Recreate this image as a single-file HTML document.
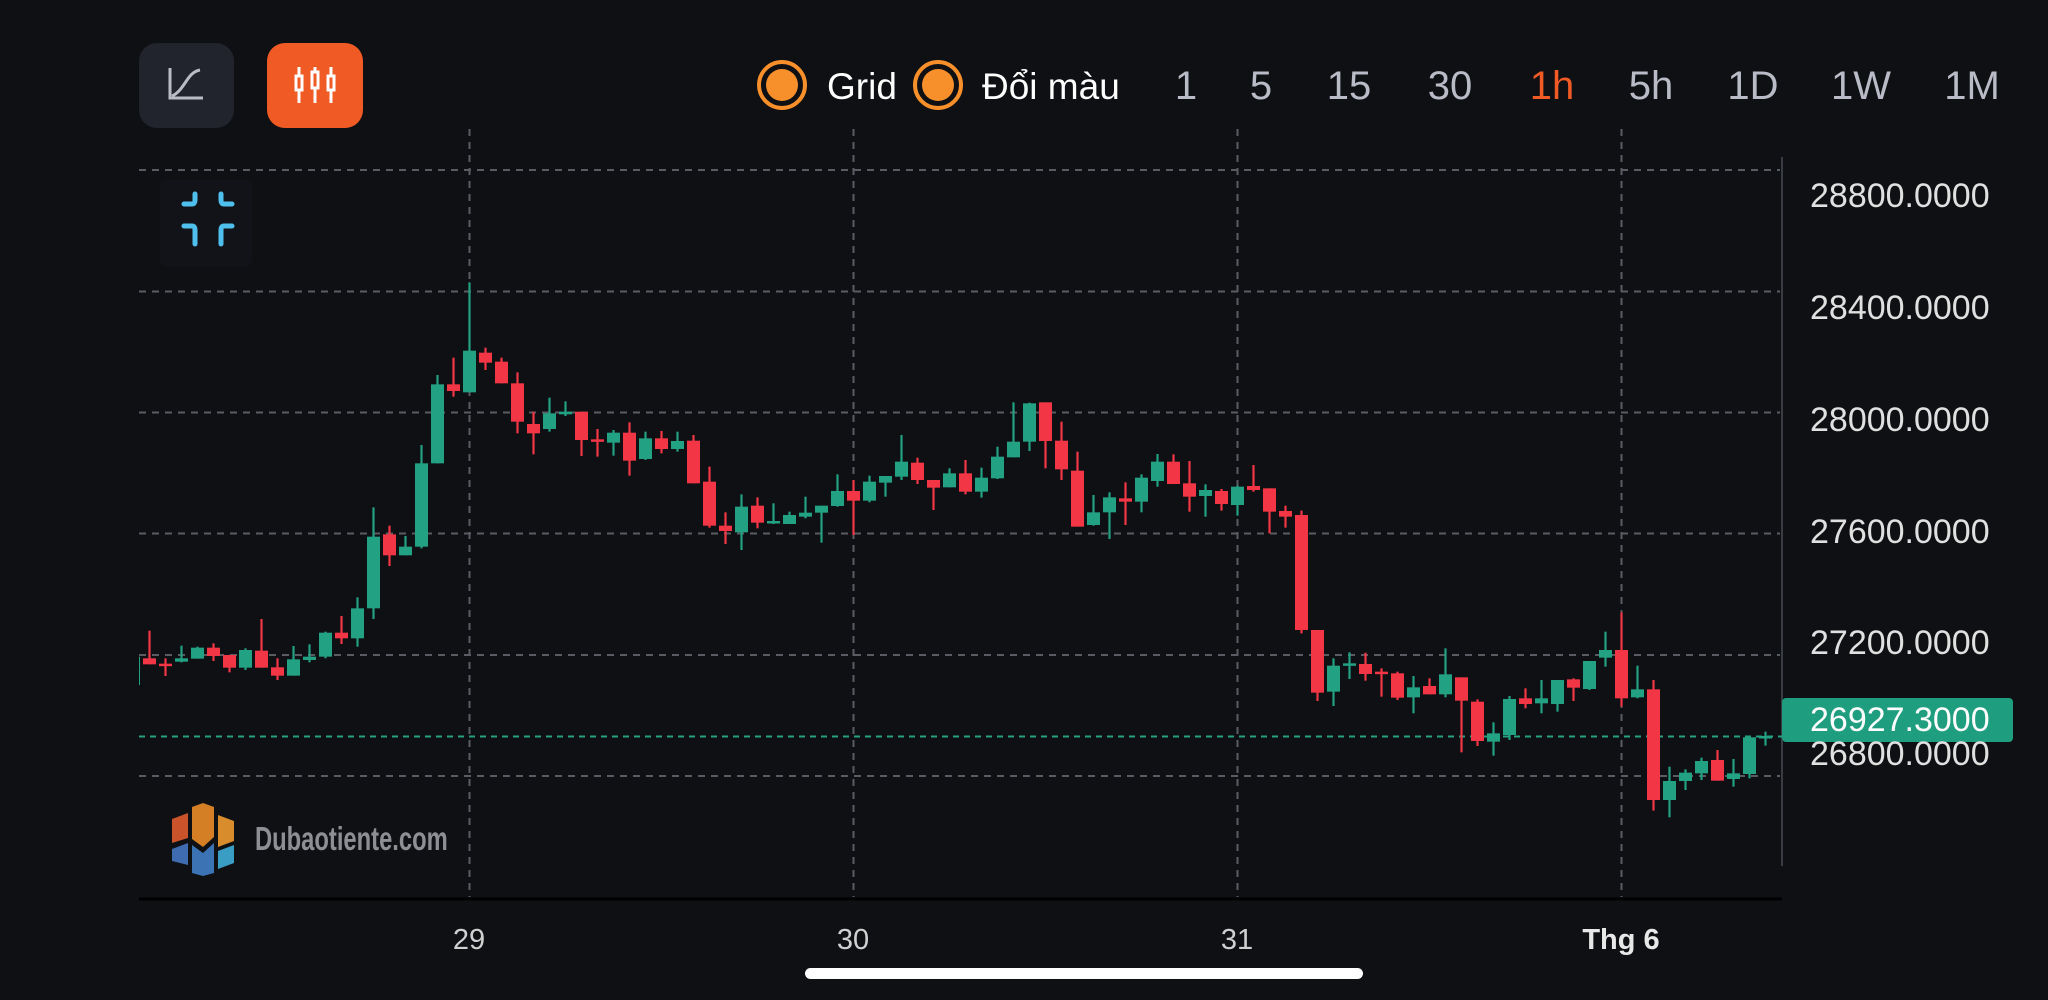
<!DOCTYPE html>
<html><head><meta charset="utf-8">
<style>
html,body{margin:0;padding:0;background:#0f1014;}
body{width:2048px;height:1000px;overflow:hidden;position:relative;font-family:"Liberation Sans",sans-serif;}
.t{position:absolute;white-space:nowrap;}
</style></head>
<body>
<svg id="s" width="2048" height="1000" style="position:absolute;left:0;top:0">
<rect x="139" y="43" width="95" height="85" rx="18" fill="#22242d"/>
<path d="M170 68 V98 H203" stroke="#b9bcc6" stroke-width="3" fill="none"/>
<path d="M172 96 C185 90 187 72 200 70" stroke="#b9bcc6" stroke-width="3" fill="none"/>
<rect x="267" y="43" width="96" height="85" rx="18" fill="#f05a24"/>
<g stroke="#fff" stroke-width="3" fill="none">
<line x1="299" y1="67" x2="299" y2="103"/><rect x="296" y="76" width="6" height="14" fill="#f05a24"/>
<line x1="315" y1="67" x2="315" y2="103"/><rect x="312" y="72" width="6" height="16" fill="#f05a24"/>
<line x1="331" y1="67" x2="331" y2="103"/><rect x="328" y="76" width="6" height="14" fill="#f05a24"/>
</g>
<circle cx="782" cy="85" r="23" fill="none" stroke="#f7902a" stroke-width="4"/>
<circle cx="782" cy="85" r="16" fill="#f7902a"/>
<circle cx="938" cy="85" r="23" fill="none" stroke="#f7902a" stroke-width="4"/>
<circle cx="938" cy="85" r="16" fill="#f7902a"/>
<rect x="160" y="180" width="92" height="86" rx="6" fill="#121318"/>
<g stroke="#4fc0ee" stroke-width="5" fill="none" stroke-linecap="round">
<path d="M184 204 H192 Q195 204 195 200 V194"/>
<path d="M232 204 H224 Q221 204 221 200 V194"/>
<path d="M184 226 H192 Q195 226 195 230 V244"/>
<path d="M232 226 H224 Q221 226 221 230 V244"/>
</g>
<g id="grid" stroke="#5a5c63" stroke-width="2" stroke-dasharray="7 6"></g>
<line x1="1782" y1="157" x2="1782" y2="866" stroke="#3a3c44" stroke-width="2"/>
<line x1="139" y1="899" x2="1782" y2="899" stroke="#000" stroke-width="3"/>
<line x1="139" y1="736.5" x2="1782" y2="736.5" stroke="#26a17f" stroke-width="2" stroke-dasharray="6 5"/>
<g id="c"></g>
<rect x="1782" y="698" width="231" height="44" rx="4" fill="#1f9e7f"/>
<g transform="translate(170,803)">
<path d="M2 16 L18 10 V35 L2 40Z" fill="#c9532a"/>
<path d="M22 4 L33 0 L44 4 V34 L33 44 L22 36Z" fill="#d47f26"/>
<path d="M48 12 L64 18 V38 L48 44Z" fill="#d98c2b"/>
<path d="M2 46 L18 40 V62 L2 58Z" fill="#3f6bb0"/>
<path d="M22 42 L33 50 L44 40 V70 L33 73 L22 70Z" fill="#3b73b4"/>
<path d="M48 48 L64 42 V60 L48 66Z" fill="#3a9ec4"/>
</g>
<rect x="805" y="968" width="558" height="11" rx="5.5" fill="#fff"/>
</svg>
<div class="t" style="left:827px;top:66px;font-size:37px;color:#fff;">Grid</div>
<div class="t" style="left:982px;top:66px;font-size:37px;color:#fff;font-family:'Liberation Sans','Noto Sans CJK JP',sans-serif;">Đổi màu</div>
<div class="t" style="left:1186px;top:64px;font-size:40px;color:#b9bcc6;transform:translateX(-50%)">1</div>
<div class="t" style="left:1261px;top:64px;font-size:40px;color:#b9bcc6;transform:translateX(-50%)">5</div>
<div class="t" style="left:1349px;top:64px;font-size:40px;color:#b9bcc6;transform:translateX(-50%)">15</div>
<div class="t" style="left:1450px;top:64px;font-size:40px;color:#b9bcc6;transform:translateX(-50%)">30</div>
<div class="t" style="left:1552px;top:64px;font-size:40px;color:#f05a24;transform:translateX(-50%)">1h</div>
<div class="t" style="left:1651px;top:64px;font-size:40px;color:#b9bcc6;transform:translateX(-50%)">5h</div>
<div class="t" style="left:1753px;top:64px;font-size:40px;color:#b9bcc6;transform:translateX(-50%)">1D</div>
<div class="t" style="left:1861px;top:64px;font-size:40px;color:#b9bcc6;transform:translateX(-50%)">1W</div>
<div class="t" style="left:1972px;top:64px;font-size:40px;color:#b9bcc6;transform:translateX(-50%)">1M</div>
<div class="t" style="left:1810px;top:177px;font-size:34px;color:#e0e0e0;">28800.0000</div>
<div class="t" style="left:1810px;top:289px;font-size:34px;color:#e0e0e0;">28400.0000</div>
<div class="t" style="left:1810px;top:401px;font-size:34px;color:#e0e0e0;">28000.0000</div>
<div class="t" style="left:1810px;top:513px;font-size:34px;color:#e0e0e0;">27600.0000</div>
<div class="t" style="left:1810px;top:624px;font-size:34px;color:#e0e0e0;">27200.0000</div>
<div class="t" style="left:1810px;top:735px;font-size:34px;color:#e0e0e0;">26800.0000</div>
<div class="t" style="left:1810px;top:701px;font-size:34px;color:#fff;">26927.3000</div>
<div class="t" style="left:469px;top:924px;font-size:29px;color:#d0d0d0;transform:translateX(-50%)">29</div>
<div class="t" style="left:853px;top:924px;font-size:29px;color:#d0d0d0;transform:translateX(-50%)">30</div>
<div class="t" style="left:1237px;top:924px;font-size:29px;color:#d0d0d0;transform:translateX(-50%)">31</div>
<div class="t" style="left:1621px;top:924px;font-size:29px;color:#e8e8e8;font-weight:bold;transform:translateX(-50%)">Thg 6</div>
<div class="t" style="left:255px;top:820px;font-size:33px;color:#8e8f94;font-weight:bold;transform-origin:0 0;transform:scaleX(0.72);">Dubaotiente.com</div>
<script>
var NS="http://www.w3.org/2000/svg";
function el(p,n,a){var e=document.createElementNS(NS,n);for(var k in a)e.setAttribute(k,a[k]);p.appendChild(e);return e;}
var g=document.getElementById('grid');
[170,291.5,412.5,533.5,655,776].forEach(function(y){el(g,'line',{x1:139,y1:y,x2:1780,y2:y});});
[469.5,853.5,1237.5,1621.5].forEach(function(x){el(g,'line',{x1:x,y1:129,x2:x,y2:897});});
var G="#22a183",R="#f23645";
var A=[[-21,1,1190,1275,1185,1275],[-20,0,1195,1213,1112,1213],[-19,0,1211,1216,1195,1248],[-18,1,1195,1205,1157,1207],[-17,1,1163,1196,1160,1196],[-16,0,1163,1188,1150,1203],[-15,0,1185,1223,1185,1237],[-14,1,1170,1223,1165,1230],[-13,0,1172,1223,1077,1223],[-12,0,1222,1247,1195,1260],[-11,1,1198,1247,1158,1247],[-10,1,1190,1200,1153,1207],[-9,1,1118,1190,1115,1195],[-8,0,1118,1135,1068,1152],[-7,1,1045,1135,1012,1160],[-6,1,830,1045,742,1077],[-5,0,823,886,797,918],[-4,1,860,886,828,886],[-3,1,610,860,555,865],[-2,1,373,610,345,610],[-1,0,373,393,293,410],[0,1,272,397,67,397],[1,0,278,308,263,330],[2,0,305,370,293,370],[3,0,370,485,337,520],[4,0,492,520,455,583],[5,1,460,507,413,515],[6,1,455,463,424,468],[7,0,455,540,455,588],[8,0,538,545,507,590],[9,1,518,548,510,587],[10,0,518,602,487,647],[11,1,535,597,515,600],[12,0,535,567,513,580],[13,1,543,567,515,575],[14,0,542,670,525,670]];
var B=[[15,0,305,437,260,443],[16,0,437,453,397,492],[17,1,380,457,343,510],[18,0,377,428,352,445],[19,1,423,428,370,432],[20,1,405,432,395,432],[21,1,398,410,350,415],[22,1,377,398,377,488],[23,1,333,378,283,380],[24,0,333,362,300,465],[25,1,305,362,287,367],[26,1,288,308,288,350],[27,1,245,290,165,300],[28,0,248,300,233,312],[29,0,300,323,300,390],[30,1,280,322,265,322],[31,0,280,335,240,343],[32,1,293,335,263,353],[33,1,230,295,200,297],[34,1,185,232,67,232],[35,1,70,185,68,213],[36,0,67,183,67,265],[37,0,182,268,125,300],[38,0,272,440,215,440],[39,1,397,435,345,437],[40,1,352,397,337,477],[41,0,355,365,307,435],[42,1,293,365,283,397],[43,1,245,303,222,320],[44,0,245,312,223,312],[45,0,310,350,243,395],[46,1,330,348,313,410],[47,0,333,372,327,392],[48,1,320,375,317,407]];
var C=[[49,0,78,90,15,95],[50,0,85,155,85,220],[51,0,153,170,137,203],[52,0,165,510,152,520],[53,0,510,698,510,723],[54,1,617,695,595,738],[55,1,610,615,577,657],[56,0,612,642,578,662],[57,0,635,640,625,710],[58,0,640,713,635,720],[59,1,682,712,648,760],[60,0,678,703,655,703],[61,1,643,703,565,712],[62,0,652,722,652,877],[63,0,725,843,718,858],[64,1,820,845,787,887],[65,1,717,825,708,840],[66,0,715,732,685,745],[67,1,715,730,660,760],[68,1,660,732,660,755],[69,0,658,683,655,723],[70,1,603,687,603,690],[71,1,570,593,515,620],[72,0,570,715,457,740],[73,1,688,712,617,715],[74,0,688,1020,660,1052],[75,1,963,1020,920,1072],[76,1,938,963,928,990],[77,1,903,940,893,960],[78,0,900,962,870,962],[79,1,940,957,897,980],[80,1,832,942,830,955],[81,1,828,835,815,857]];
var cg=document.getElementById('c');
var clip=el(document.getElementById('s'),'clipPath',{id:'cp'});el(clip,'rect',{x:139,y:120,width:1643,height:780});
cg.setAttribute('clip-path','url(#cp)');
function draw(arr,oy){arr.forEach(function(d){var x=469.5+16*d[0],col=d[1]?G:R;
var bt=oy+d[2]/3,bb=oy+d[3]/3,wt=oy+d[4]/3,wb=oy+d[5]/3;if(bb-bt<2.5){bb=bt+2.5;}
el(cg,'line',{x1:x,y1:wt,x2:x,y2:wb,stroke:col,'stroke-width':2.2});
el(cg,'rect',{x:x-6.5,y:bt,width:13,height:bb-bt,fill:col});});}
draw(A,260);draw(B,380);draw(C,460);
</script>
</body></html>
